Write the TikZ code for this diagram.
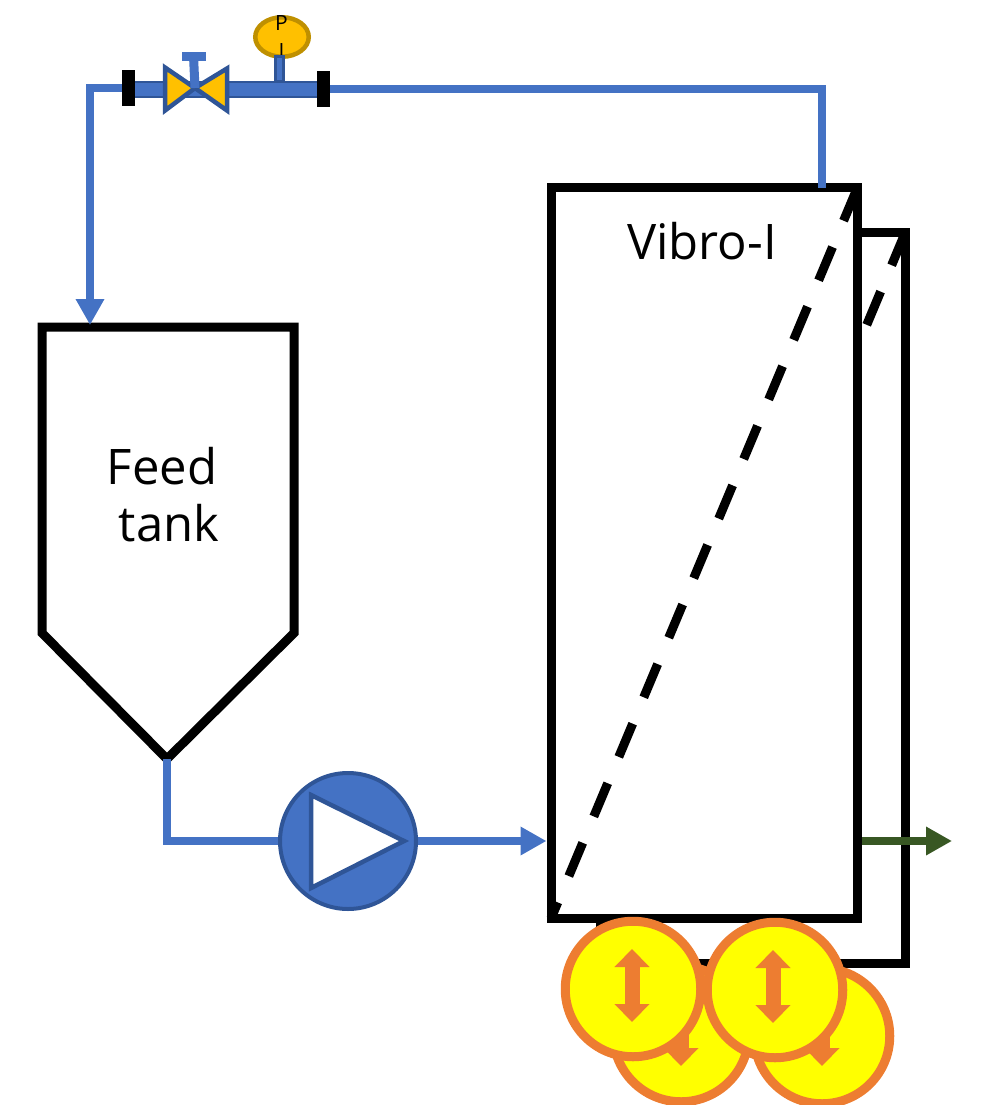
\documentclass[tikz,border=0pt]{standalone}
\usepackage{fontspec}
\setmainfont{Open Sans}
\usetikzlibrary{arrows.meta,calc,shapes.geometric}
\definecolor{pipeblue}{HTML}{4472C4}
\definecolor{darkblue}{HTML}{2F5597}
\definecolor{valvegold}{HTML}{FFC000}
\definecolor{gaugerim}{HTML}{BF9000}
\definecolor{motorrim}{HTML}{ED7D31}
\definecolor{motorfill}{HTML}{FFFF00}
\definecolor{permgreen}{HTML}{385723}
\tikzset{
  pipe/.style={draw=pipeblue,line width=8pt,line join=miter},
  pipearrow/.style={pipe,-{Triangle[length=26pt,width=27pt]}},
  greenarrow/.style={draw=permgreen,line width=8pt,-{Triangle[length=26pt,width=27pt]}},
  wall/.style={draw=black,line width=9pt,line join=miter},
  unitbox/.style={rectangle,wall,fill=white,inner sep=0pt},
  dashdiag/.style={draw=black,line width=9pt,dash pattern=on 36pt off 28.6pt},
  flange/.style={rectangle,fill=black,inner sep=0pt,minimum width=13pt,minimum height=36pt},
  runpipe/.style={rectangle,draw=darkblue,fill=pipeblue,line width=2pt,inner sep=0pt},
  valvepart/.style={draw=darkblue,fill=valvegold,line width=4.5pt,line join=miter},
  gauge/.style={ellipse,draw=gaugerim,fill=valvegold,line width=4.5pt,inner sep=0pt,minimum width=53.5pt,minimum height=39.5pt},
  pumpbody/.style={circle,draw=darkblue,fill=pipeblue,line width=4pt,inner sep=0pt,minimum size=136pt},
  motor/.style={circle,draw=motorrim,fill=motorfill,line width=9pt,inner sep=0pt,minimum size=135.5pt},
  updown/.style={draw=motorrim,line width=15pt,{Triangle[length=18pt,width=34pt]}-{Triangle[length=18pt,width=34pt]}},
  bigtext/.style={font=\fontsize{49}{57}\selectfont,align=center,inner sep=0pt,text=black}
}
\begin{document}
\begin{tikzpicture}[x=1pt,y=-1pt]
\useasboundingbox (0,0) rectangle (980,1105);
% back plate
\node[unitbox,minimum width=305.5pt,minimum height=731.5pt] (back) at (752.75,597.75) {};
\begin{scope}
\clip (back.north east) rectangle (back.south west);
\draw[dashdiag] ($(back.north east)+(-4.5,4.5)$) -- ($(back.south west)+(4.5,-4.5)$);
\end{scope}
% front plate
\node[unitbox,minimum width=306.5pt,minimum height=731pt] (vibro) at (704.25,553) {};
\begin{scope}
\clip (vibro.north east) rectangle (vibro.south west);
\draw[dashdiag] ($(vibro.north east)+(-4.5,4.5)$) -- ($(vibro.south west)+(4.5,-4.5)$);
\end{scope}
\node[bigtext] (vibrolabel) at (702,241) {Vibro-I};
% feed tank
\coordinate (tl) at (42,327);
\coordinate (tr) at (294,327);
\coordinate (sr) at (294,633);
\coordinate (tip) at (167,759);
\coordinate (sl) at (42,633);
\draw[wall] (tl) -- (tr) -- (sr) -- (tip) -- (sl) -- cycle;
\node[bigtext] (feedlabel) at (169,495) {Feed\kern14pt\\tank};
% top pipework
\coordinate (tankin) at (90,325);
\coordinate (vibroin) at (822,188);
\node[runpipe,minimum width=195pt,minimum height=15pt] (run) at (225.5,90) {};
\draw[pipe] (323.5,89) -| (vibroin);
\node[flange] (fr) at (323.5,89) {};
\draw[pipearrow] (128.5,88) -| (tankin);
\node[flange] (fl) at (128.5,88) {};
% valve
\coordinate (vc) at (195,88);
\draw[valvepart] (165,67.5) -- (165,110.5) -- (vc) -- cycle;
\draw[valvepart] (227,68.5) -- (227,110.5) -- (vc) -- cycle;
\draw[draw=pipeblue,line width=9pt] (vc) -- (193.5,56);
\draw[draw=pipeblue,line width=9pt] (182,56.5) -- (206,56.5);
% pressure gauge
\node[gauge] (pi) at (282,37) {};
\node[font=\fontsize{21}{28}\selectfont,align=center,inner sep=0pt] (pilabel) at (281.5,37.5) {P\\I};
\draw[draw=darkblue,fill=pipeblue,line width=3pt] (275.5,82) rectangle (283.5,57);
% pump
\node[pumpbody] (pump) at (348,841) {};
\draw[draw=darkblue,fill=white,line width=4.5pt,line join=miter] (311,795) -- (311,888) -- (404,841) -- cycle;
\draw[pipe] (tip) |- (pump);
\draw[pipearrow] (pump) -- (vibro.west |- pump);
% permeate
\coordinate (permout) at (952,841);
\draw[greenarrow] (vibro.east |- permout) -- (permout);
% motors
\node[motor] (mbl) at (681,1034) {};
\draw[updown] ($(mbl)+(0,-37)$) -- ($(mbl)+(0,32)$);
\node[motor] (mbr) at (822,1036) {};
\draw[updown] ($(mbr)+(0,-37)$) -- ($(mbr)+(0,30)$);
\node[motor] (mfl) at (633,989) {};
\draw[updown] ($(mfl)+(-1,-40)$) -- ($(mfl)+(-1,33)$);
\node[motor] (mfr) at (775,990) {};
\draw[updown] ($(mfr)+(-2,-40)$) -- ($(mfr)+(-2,33)$);
\end{tikzpicture}
\end{document}
